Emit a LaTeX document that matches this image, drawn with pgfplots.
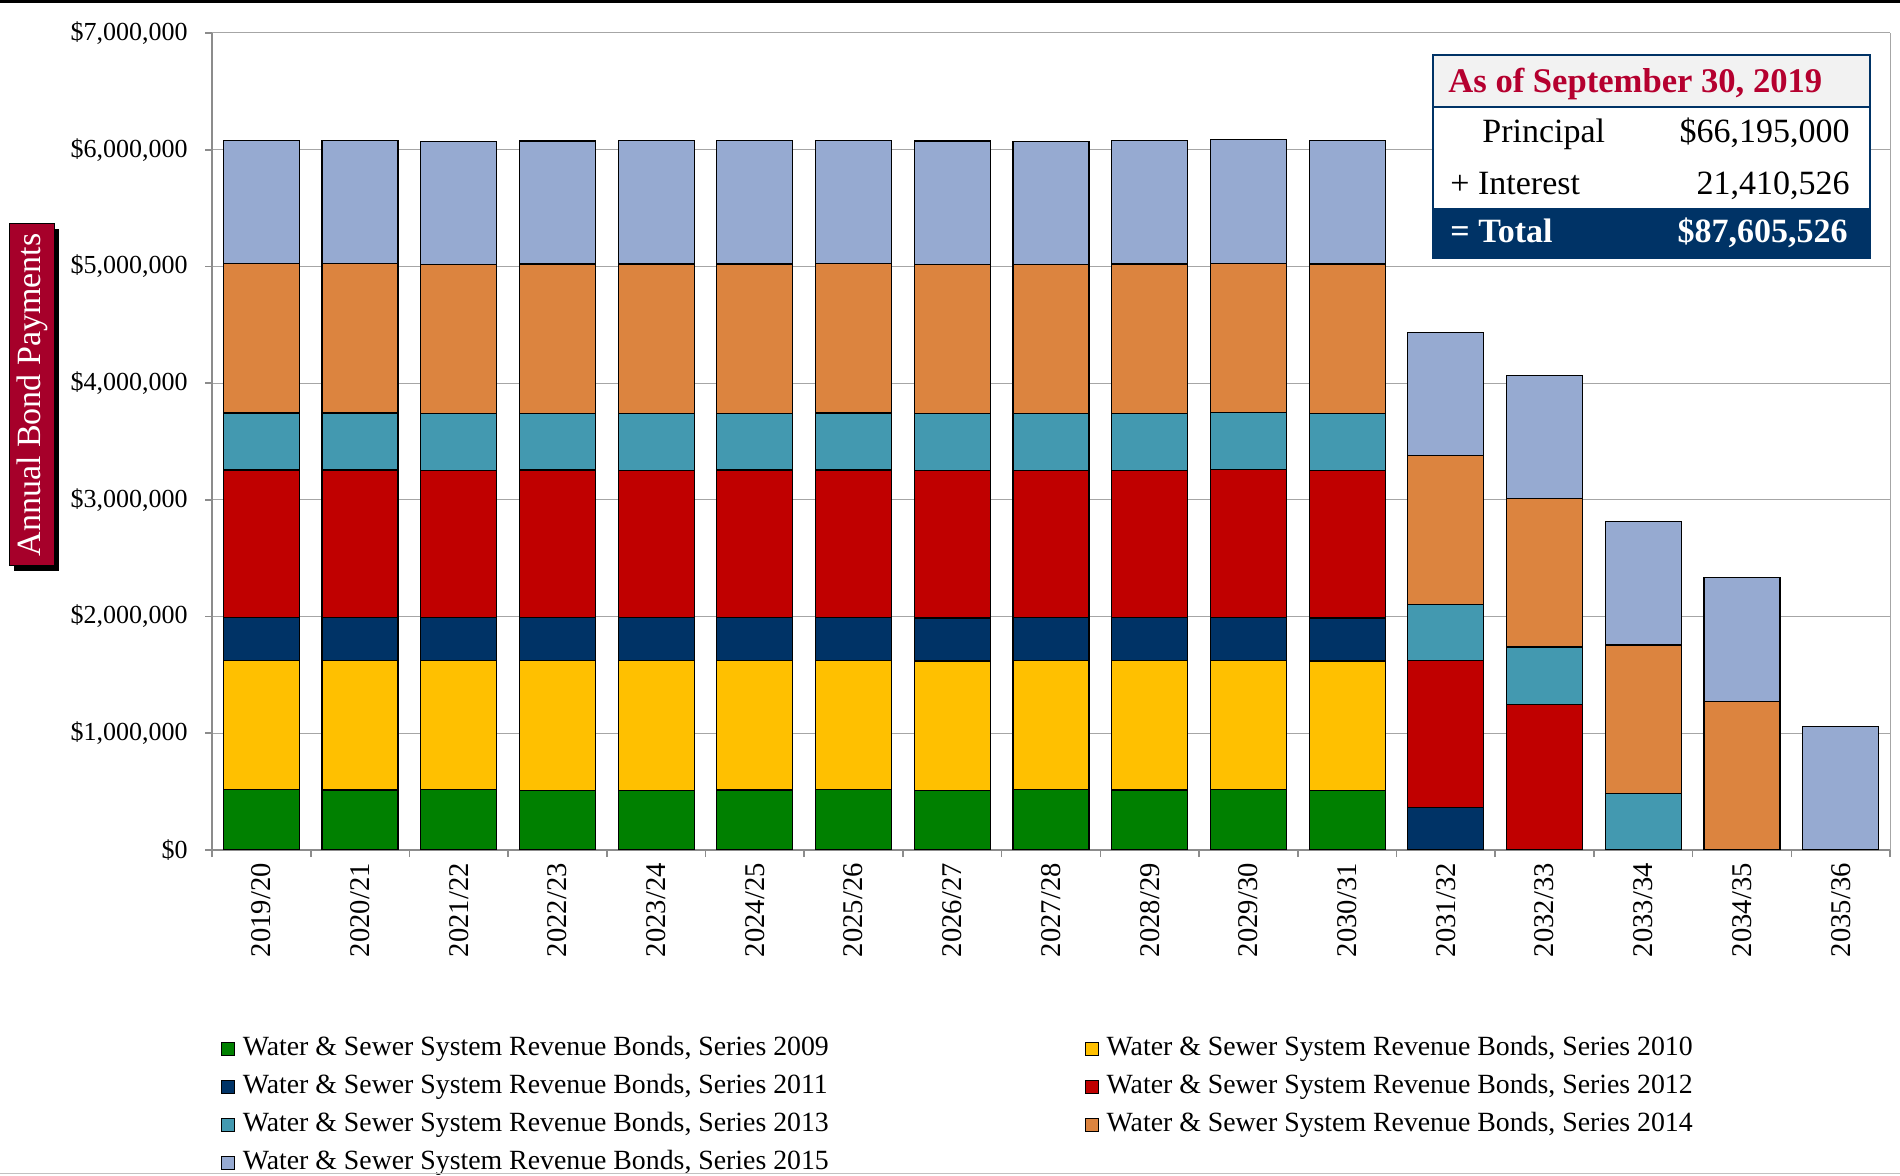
\documentclass[border=0pt]{standalone}
\usepackage{pgfplots}
\pgfplotsset{compat=1.18}
\usepackage{pgfplotstable}
\usepackage{fontspec}
\setmainfont{Liberation Serif}
\definecolor{cGreen}{HTML}{008000}
\definecolor{cYellow}{HTML}{FFC000}
\definecolor{cNavy}{HTML}{003366}
\definecolor{cRed}{HTML}{C00000}
\definecolor{cTeal}{HTML}{4399B0}
\definecolor{cOrange}{HTML}{DC843F}
\definecolor{cLight}{HTML}{96AAD1}
\definecolor{cCrimson}{HTML}{A6002A}
\definecolor{cHead}{HTML}{B5002F}
\definecolor{cHeadBg}{HTML}{F2F2F2}
\definecolor{cGrid}{HTML}{A6A6A6}
\definecolor{cAxis}{HTML}{8C8C8C}

\pgfplotstableread{
x s09 s10 s11 s12 s13 s14 s15
0 516000 1108000 366000 1266000 488000 1280000 1056000
1 514000 1110000 367000 1265000 489000 1279000 1058000
2 515000 1106000 368000 1264000 487000 1278000 1055000
3 513000 1109000 367000 1266000 486000 1279000 1054000
4 512000 1111000 366000 1263000 488000 1281000 1057000
5 514000 1108000 368000 1265000 487000 1278000 1056000
6 516000 1110000 366000 1264000 489000 1280000 1057000
7 513000 1107000 367000 1266000 488000 1277000 1056000
8 515000 1106000 368000 1263000 486000 1279000 1054000
9 514000 1109000 366000 1265000 487000 1280000 1055000
10 516000 1111000 367000 1266000 489000 1279000 1057000
11 512000 1108000 368000 1264000 488000 1281000 1056000
12 0 0 361000 1261000 484000 1273000 1056000
13 0 0 0 1249000 490000 1270000 1059000
14 0 0 0 0 481000 1276000 1056000
15 0 0 0 0 0 1270000 1062000
16 0 0 0 0 0 0 1056000
}\bonds

\begin{document}
\begin{tikzpicture}
\useasboundingbox (0,0) rectangle (950bp,588bp);
\begin{axis}[
  at={(106bp,163bp)}, anchor=south west,
  scale only axis, width=839bp, height=408.5bp,
  ybar stacked, bar width=38bp,
  xmin=-0.5, xmax=16.5, ymin=0, ymax=7000000,
  enlargelimits=false,
  axis lines*=left,
  axis line style={draw=cAxis, line width=0.9bp},
  ymajorgrids, grid style={draw=cGrid, line width=0.5bp},
  ytick={0,1000000,2000000,3000000,4000000,5000000,6000000,7000000},
  yticklabels={{\$0},{\$1,000,000},{\$2,000,000},{\$3,000,000},{\$4,000,000},{\$5,000,000},{\$6,000,000},{\$7,000,000}},
  scaled y ticks=false,
  xtick={0,1,...,16},
  xticklabels={2019/20,2020/21,2021/22,2022/23,2023/24,2024/25,2025/26,2026/27,2027/28,2028/29,2029/30,2030/31,2031/32,2032/33,2033/34,2034/35,2035/36},
  minor xtick={-0.5,0.5,...,16.5},
  tick align=outside,
  major tick length=3.5bp, minor tick length=3.5bp,
  every major x tick/.append style={draw=none},
  every minor x tick/.append style={draw=cAxis, line width=0.8bp},
  ytick style={draw=cAxis, line width=0.8bp},
  yticklabel style={font=\fontsize{13bp}{15bp}\selectfont, inner sep=0pt, xshift=-8.5bp},
  xticklabel style={rotate=90, anchor=east, font=\fontsize{14.3bp}{16bp}\selectfont, inner sep=0pt, xshift=-3bp},
  every axis plot/.append style={draw=black, line width=0.6bp},
  area legend,
  legend image code/.code={\draw[#1, line width=0.4bp] (0bp,-3.25bp) rectangle (6.5bp,3.25bp);},
  legend columns=2,
  legend cell align=left,
  legend style={draw=none, fill=none, at={(0.00536,-0.2277)}, anchor=north west,
    inner sep=0pt, outer sep=0pt,
    font=\fontsize{13.9bp}{15bp}\selectfont,
    nodes={inner sep=0pt, text height=9.5bp, text depth=3bp},
    row sep=6.5bp,
    /tikz/every odd column/.append style={column sep=4bp},
    /tikz/every even column/.append style={column sep=128bp}},
]
\addplot[fill=cGreen] table[x=x, y=s09] {\bonds};
\addlegendentry{Water \& Sewer System Revenue Bonds, Series 2009}
\addplot[fill=cYellow] table[x=x, y=s10] {\bonds};
\addlegendentry{Water \& Sewer System Revenue Bonds, Series 2010}
\addplot[fill=cNavy] table[x=x, y=s11] {\bonds};
\addlegendentry{Water \& Sewer System Revenue Bonds, Series 2011}
\addplot[fill=cRed] table[x=x, y=s12] {\bonds};
\addlegendentry{Water \& Sewer System Revenue Bonds, Series 2012}
\addplot[fill=cTeal] table[x=x, y=s13] {\bonds};
\addlegendentry{Water \& Sewer System Revenue Bonds, Series 2013}
\addplot[fill=cOrange] table[x=x, y=s14] {\bonds};
\addlegendentry{Water \& Sewer System Revenue Bonds, Series 2014}
\addplot[fill=cLight] table[x=x, y=s15] {\bonds};
\addlegendentry{Water \& Sewer System Revenue Bonds, Series 2015}
\end{axis}
% right border of plot area
\draw[cGrid, line width=0.5bp] (945bp,163bp) -- (945bp,571.5bp);
% top and bottom frame lines
\draw[black, line width=1.5bp] (0bp,587.2bp) -- (950bp,587.2bp);
\draw[cGrid!70, line width=0.8bp] (0bp,1.2bp) -- (950bp,1.2bp);
% y-axis title box
\fill[black] (7bp,302.5bp) rectangle (29.5bp,473.5bp);
\filldraw[fill=cCrimson, draw=black, line width=0.5bp] (4.5bp,305bp) rectangle (27bp,476bp);
\node[rotate=90, text=white, inner sep=0pt, font=\fontsize{17bp}{18bp}\selectfont] at (16bp,390.5bp) {Annual Bond Payments};
% info box
\fill[cHeadBg] (716.5bp,534.5bp) rectangle (935bp,560.5bp);
\fill[white] (716.5bp,484bp) rectangle (935bp,534.5bp);
\fill[cNavy] (716.5bp,459bp) rectangle (935bp,484bp);
\draw[cNavy, line width=1.2bp] (716.5bp,459bp) rectangle (935bp,560.5bp);
\draw[cNavy, line width=1.2bp] (716.5bp,534.5bp) -- (935bp,534.5bp);
\begin{scope}[every node/.style={inner sep=0pt, font=\fontsize{17bp}{19bp}\selectfont}]
\node[anchor=base west, text=cHead, font=\fontsize{17.3bp}{19bp}\selectfont\bfseries] at (724bp,541.5bp) {As of September 30, 2019};
\node[anchor=base west] at (741bp,516.5bp) {Principal};
\node[anchor=base east] at (925bp,516.5bp) {\$66,195,000};
\node[anchor=base west] at (725bp,490.5bp) {+ Interest};
\node[anchor=base east] at (925bp,490.5bp) {21,410,526};
\node[anchor=base west, text=white, font=\fontsize{17bp}{19bp}\selectfont\bfseries] at (725bp,466.5bp) {= Total};
\node[anchor=base east, text=white, font=\fontsize{17bp}{19bp}\selectfont\bfseries] at (924bp,466.5bp) {\$87,605,526};
\end{scope}
\end{tikzpicture}
\end{document}
